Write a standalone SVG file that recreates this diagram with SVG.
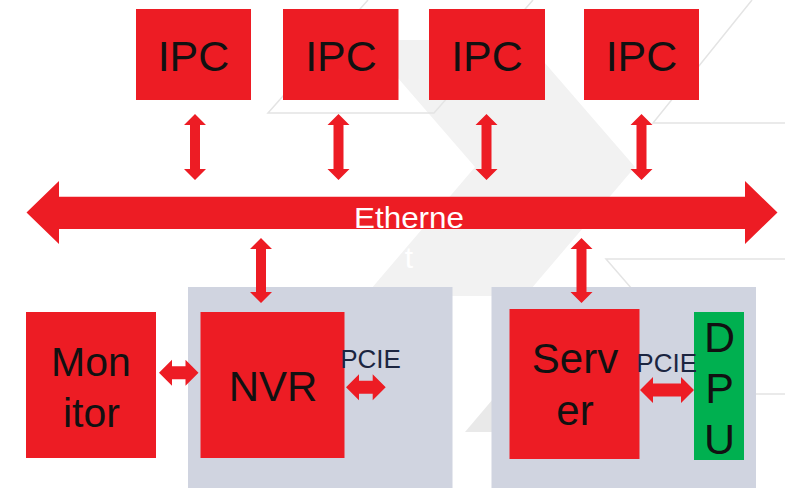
<svg xmlns="http://www.w3.org/2000/svg" width="785" height="488" viewBox="0 0 785 488">
  <style>
    .bg { fill: #ffffff; }
    .chev { fill: #f2f2f2; }
    .chev2 { fill: #e9e9e9; }
    .outline { fill: none; stroke: #e4e4e4; stroke-width: 1.5; }
    .panel { fill: #d0d4e0; }
    .red { fill: #ed1c24; }
    .green { fill: #00b050; }
    .arrow { fill: #ed1c24; }
    .lbl { font-family: "Liberation Sans", Arial, sans-serif; fill: #111111; text-anchor: middle; }
    .big { font-size: 42px; }
    .ipc { font-size: 43px; }
    .pcie { font-family: "Liberation Sans", Arial, sans-serif; font-size: 26px; fill: #1b2540; text-anchor: middle; }
    .eth { font-family: "Liberation Sans", Arial, sans-serif; font-size: 30px; fill: #ffffff; text-anchor: middle; }
  </style>

  <rect class="bg" x="0" y="0" width="785" height="488"/>

  <!-- decorative background chevrons -->
  <g id="backdrop">
    <polygon class="chev" points="365,40 525,40 635,167 525,296 365,296 475,167"/>
    <polygon class="chev2" points="465,432 504,386 560,386 560,432"/>
    <polyline class="outline" points="368,0 268,113 434,113 533,0"/>
    <polyline class="outline" points="752,0 653,123 785,123"/>
    <polyline class="outline" points="785,259 606,259 723,394 785,394"/>
  </g>

  <!-- host panels -->
  <g id="nvr-panel"><rect class="panel" x="188" y="287" width="264.5" height="201"/></g>
  <g id="server-panel"><rect class="panel" x="491.5" y="287" width="264.5" height="201"/></g>

  <!-- cameras -->
  <g id="ipc1"><rect class="red" x="136" y="9" width="115" height="91"/><text class="lbl ipc" x="193.5" y="71">IPC</text></g>
  <g id="ipc2"><rect class="red" x="283" y="9" width="115.5" height="91"/><text class="lbl ipc" x="341" y="71">IPC</text></g>
  <g id="ipc3"><rect class="red" x="429" y="9" width="116" height="91"/><text class="lbl ipc" x="487" y="71">IPC</text></g>
  <g id="ipc4"><rect class="red" x="584" y="9" width="115" height="91"/><text class="lbl ipc" x="641.5" y="71">IPC</text></g>

  <!-- devices -->
  <g id="monitor">
    <rect class="red" x="26" y="312" width="130" height="146"/>
    <text class="lbl" style="font-size:41px" x="91" y="376">Mon</text>
    <text class="lbl" style="font-size:41px" x="91.5" y="427">itor</text>
  </g>
  <g id="nvr">
    <rect class="red" x="200.5" y="312" width="144" height="146"/>
    <text class="lbl big" x="273" y="401">NVR</text>
  </g>
  <g id="server">
    <rect class="red" x="509.5" y="309" width="130" height="150"/>
    <text class="lbl big" x="575" y="373">Serv</text>
    <text class="lbl big" x="575" y="425">er</text>
  </g>
  <g id="dpu">
    <rect class="green" x="694" y="312" width="50" height="148"/>
    <text class="lbl ipc" x="719.5" y="352">D</text>
    <text class="lbl ipc" x="719.5" y="403">P</text>
    <text class="lbl ipc" x="719.5" y="454">U</text>
  </g>

  <!-- connectors -->
  <g id="connectors">
    <g id="ethernet">
      <polygon class="arrow" points="26.5,212.5 59,181 59,196.7 745,196.7 745,181 777.5,212.5 745,244 745,229 59,229 59,244"/>
      <text class="eth" x="409" y="228" textLength="110" lengthAdjust="spacingAndGlyphs">Etherne</text>
      <text class="eth" x="409" y="268">t</text>
    </g>
    <!-- camera links -->
    <polygon class="arrow" points="195,114 206,125 200,125 200,169 206,169 195,180 184,169 190,169 190,125 184,125"/>
    <polygon class="arrow" points="338.5,114 349.5,125 343.5,125 343.5,169 349.5,169 338.5,180 327.5,169 333.5,169 333.5,125 327.5,125"/>
    <polygon class="arrow" points="486.5,114 497.5,125 491.5,125 491.5,169 497.5,169 486.5,180 475.5,169 481.5,169 481.5,125 475.5,125"/>
    <polygon class="arrow" points="641.5,114 652.5,125 646.5,125 646.5,169 652.5,169 641.5,180 630.5,169 636.5,169 636.5,125 630.5,125"/>
    <!-- host links -->
    <polygon class="arrow" points="261,238 272,249 266,249 266,292 272,292 261,303 250,292 256,292 256,249 250,249"/>
    <polygon class="arrow" points="581.5,238 592.5,249 586.5,249 586.5,292 592.5,292 581.5,303 570.5,292 576.5,292 576.5,249 570.5,249"/>
    <!-- monitor to NVR -->
    <polygon class="arrow" points="159,372.7 172,359.7 172,366.2 185.5,366.2 185.5,359.7 198.5,372.7 185.5,385.7 185.5,379.2 172,379.2 172,385.7"/>
    <!-- PCIE links -->
    <polygon class="arrow" points="346,387.3 359,374.3 359,380.8 372.7,380.8 372.7,374.3 385.7,387.3 372.7,400.3 372.7,393.8 359,393.8 359,400.3"/>
    <text class="pcie" x="370.5" y="368.3">PCIE</text>
    <polygon class="arrow" points="640,390 653,377 653,383.5 681,383.5 681,377 694,390 681,403 681,396.5 653,396.5 653,403"/>
    <text class="pcie" x="666.7" y="371.7">PCIE</text>
  </g>
</svg>
